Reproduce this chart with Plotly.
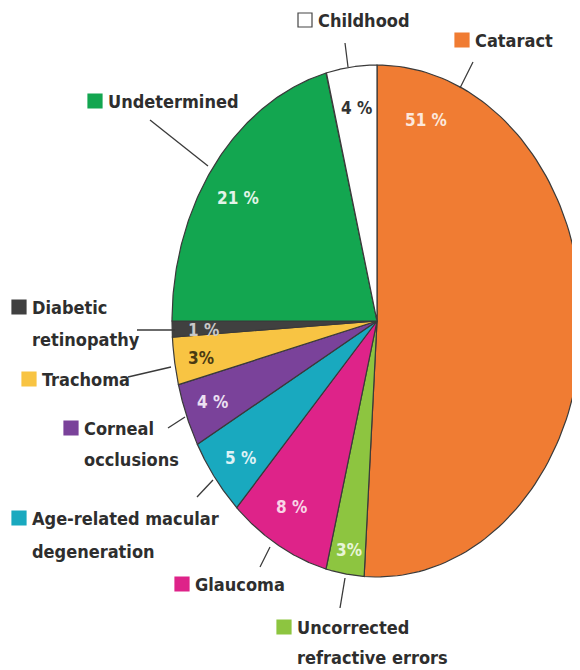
import numpy as np
import plotly.graph_objects as go

# ---- data (clockwise from 12 o'clock) ----
categories = ["Cataract", "Uncorrected refractive errors", "Glaucoma",
              "Age-related macular degeneration", "Corneal occlusions",
              "Trachoma", "Diabetic retinopathy", "Undetermined", "Childhood"]
values = [51, 3, 8, 5, 4, 3, 1, 21, 4]
pct_text = ["51 %", "3%", "8 %", "5 %", "4 %", "3%", "1 %", "21 %", "4 %"]
label_lines = [["Cataract"], ["Uncorrected", "refractive errors"], ["Glaucoma"],
               ["Age-related macular", "degeneration"], ["Corneal", "occlusions"],
               ["Trachoma"], ["Diabetic", "retinopathy"], ["Undetermined"], ["Childhood"]]

# ---- styles / layout ----
colors = ["#F07C33", "#8DC540", "#DE2389", "#19A9BF", "#7A429A",
          "#F8C443", "#404040", "#13A650", "#FFFFFF"]
pct_colors = ["#FCE8DC", "#E8F5D8", "#F8D4E6", "#DDF2F6", "#ECE0F2",
              "#4A3A12", "#C8C8C8", "#E2F4E8", "#333333"]
W, H = 580, 670
OFF = 8  # page body margin offset
cx, cy, rx, ry = 377, 321, 205, 256
FONT = "DejaVu Sans Condensed, Liberation Sans Narrow, Arial Narrow, sans-serif"
TXT = "#2E2E2E"

# inside-label positions (pixels)
pct_pos = [(426, 120), (349, 550), (291, 507), (240, 458), (212, 402),
           (201, 358), (203, 330), (238, 198), (356, 108)]
# outside legend-label anchors: square left x, first-line center y, line spacing
lab_pos = [(455, 40, 0), (277, 627, 30), (175, 584, 0), (12, 518, 33),
           (64, 428, 31), (22, 379, 0), (12, 307, 32), (88, 101, 0), (298, 20, 0)]
# leader lines (x0, y0, x1, y1)
leaders = [(460, 88, 473, 62), (345, 578, 340, 608), (270, 547, 260, 567),
           (213, 480, 197, 497), (185, 417, 168, 428), (171, 367, 128, 377),
           (175, 330, 137, 330), (208, 166, 150, 120), (348, 67, 345, 43)]

fig = go.Figure()

cum = np.concatenate([[0], np.cumsum(values)]) / float(sum(values))
for i, cat in enumerate(categories):
    t = np.linspace(cum[i], cum[i + 1], 120) * 2 * np.pi
    xs = np.concatenate([[cx], cx + rx * np.sin(t), [cx]])
    ys = np.concatenate([[cy], cy - ry * np.cos(t), [cy]])
    fig.add_trace(go.Scatter(x=xs, y=ys, mode="lines", fill="toself",
                             fillcolor=colors[i],
                             line=dict(color="#3A3A3A", width=1.2),
                             name=cat, hoverinfo="name", showlegend=False))

shapes = []
annotations = []
for i, cat in enumerate(categories):
    px, py = pct_pos[i]
    annotations.append(dict(x=px, y=py, text="<b>%s</b>" % pct_text[i],
                            showarrow=False, xanchor="center", yanchor="middle",
                            font=dict(family=FONT, size=17, color=pct_colors[i])))
    sx, sy, sp = lab_pos[i]
    shapes.append(dict(type="rect", x0=sx, x1=sx + 14, y0=sy - 7, y1=sy + 7,
                       xref="x", yref="y", fillcolor=colors[i],
                       line=dict(color="#444444" if colors[i] == "#FFFFFF" else colors[i], width=1.2)))
    for k, line in enumerate(label_lines[i]):
        annotations.append(dict(x=sx + 18, y=sy + k * sp, text="<b>%s</b>" % line,
                                showarrow=False, xanchor="left", yanchor="middle",
                                font=dict(family=FONT, size=18, color=TXT)))
    x0, y0, x1, y1 = leaders[i]
    shapes.append(dict(type="line", x0=x0, y0=y0, x1=x1, y1=y1, xref="x", yref="y",
                       line=dict(color="#3A3A3A", width=1.3)))

fig.update_layout(
    width=W, height=H,
    margin=dict(l=0, r=0, t=0, b=0),
    paper_bgcolor="white", plot_bgcolor="white",
    xaxis=dict(range=[OFF, W + OFF], visible=False, fixedrange=True),
    yaxis=dict(range=[H + OFF, OFF], visible=False, fixedrange=True),
    shapes=shapes, annotations=annotations, showlegend=False,
)

fig.write_html("out.html")
